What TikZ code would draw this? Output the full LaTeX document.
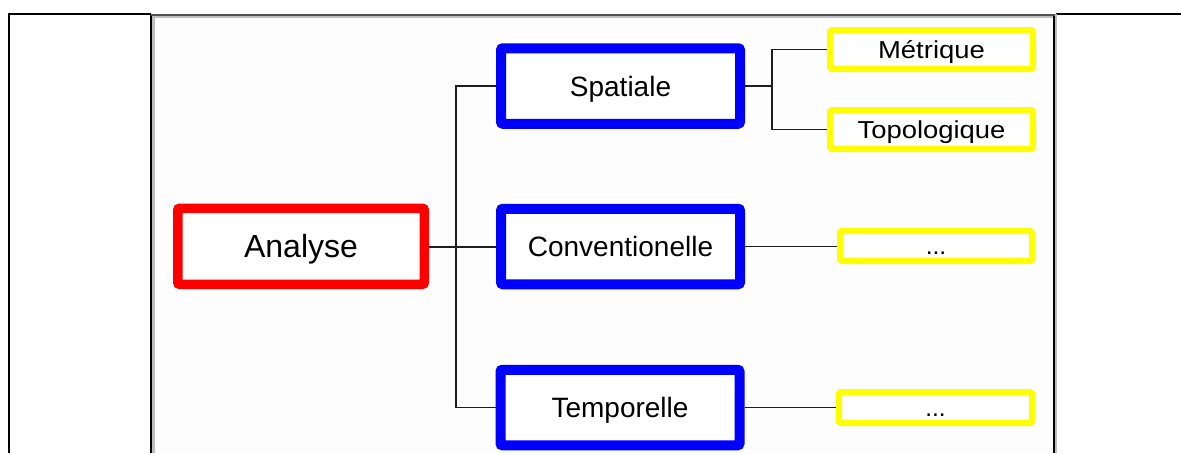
\documentclass[tikz,border=0pt]{standalone}
\usepackage{fontspec}
\setmainfont{Liberation Sans}
\usetikzlibrary{calc}
\definecolor{imgbg}{RGB}{253,253,253}
\definecolor{lgray}{RGB}{190,190,190}
\definecolor{dgray}{RGB}{80,80,80}
\tikzset{
  redbox/.style={draw={rgb,255:red,255;green,0;blue,0}, line width=9.5pt, rounded corners=2pt, fill=white,
    minimum width=246.5pt, minimum height=76pt, inner sep=0pt,
    font=\fontsize{32}{36}\selectfont, text height=23pt, text depth=0pt},
  bluebox/.style={draw={rgb,255:red,0;green,0;blue,255}, line width=10pt, rounded corners=2pt, fill=white,
    minimum width=239pt, minimum height=75.5pt, inner sep=0pt,
    font=\fontsize{28}{32}\selectfont, text height=20pt, text depth=0pt},
  yelbox/.style={draw={rgb,255:red,255;green,255;blue,0}, line width=6pt, rounded corners=1.5pt, fill=white,
    inner sep=0pt, font=\fontsize{24.5}{28}\selectfont, text height=17.5pt, text depth=0pt},
  link/.style={draw={rgb,255:red,30;green,30;blue,30}, line width=1.6pt},
}
\begin{document}
\begin{tikzpicture}[x=1pt,y=-1pt]
\useasboundingbox (0,0) rectangle (1181,453);
% table frame
\fill[imgbg] (152,15) rectangle (1055,453);
\draw[black, line width=2pt] (7.5,14) -- (151,14);
\draw[black, line width=2pt] (1056,13.5) -- (1181,13.5);
\draw[black, line width=2pt] (8.5,14) -- (8.5,453);
\draw[black, line width=2pt] (151,14) -- (151,453);
\draw[lgray, line width=2.5pt] (153.6,16) -- (153.6,453);
\draw[black, line width=2pt] (1054.3,14) -- (1054.3,453);
\draw[lgray, line width=2pt] (1056.3,14) -- (1056.3,453);
\draw[dgray, line width=1.7pt] (151,15.2) -- (1055.3,15.2);
\draw[lgray, line width=2pt] (152.5,17.1) -- (1053.3,17.1);
% nodes
\node[redbox] (an) at (301,246.3) {Analyse};
\node[bluebox] (sp) at (620.5,86) {Spatiale};
\node[bluebox] (co) at (620.5,246.5) {Conventionelle};
\node[bluebox] (te) at (620,407.5) {Temporelle};
\node[yelbox, minimum width=203pt, minimum height=39pt] (me) at (931.5,49.5) {\scalebox{1.12}[1]{Métrique}};
\node[yelbox, minimum width=203pt, minimum height=39pt] (to) at (931.5,129.5) {\scalebox{1.12}[1]{Topologique}};
\node[yelbox, minimum width=192pt, minimum height=30pt] (d1) at (936,246) {...};
\node[yelbox, minimum width=193pt, minimum height=31pt] (d2) at (935.5,407.5) {...};
% connectors
\coordinate (tr) at (456,247);
\coordinate (j) at (772,86);
\draw[link] (an.east |- tr) -- (co.west |- tr);
\draw[link] (sp.west) -- (sp.west -| tr) |- (te.west);
\draw[link] (sp.east) -- (j);
\draw[link] (me.west) -| (j) |- (to.west);
\draw[link] (co.east) -- (co.east -| d1.west);
\draw[link] (te.east) -- (te.east -| d2.west);
\end{tikzpicture}
\end{document}
